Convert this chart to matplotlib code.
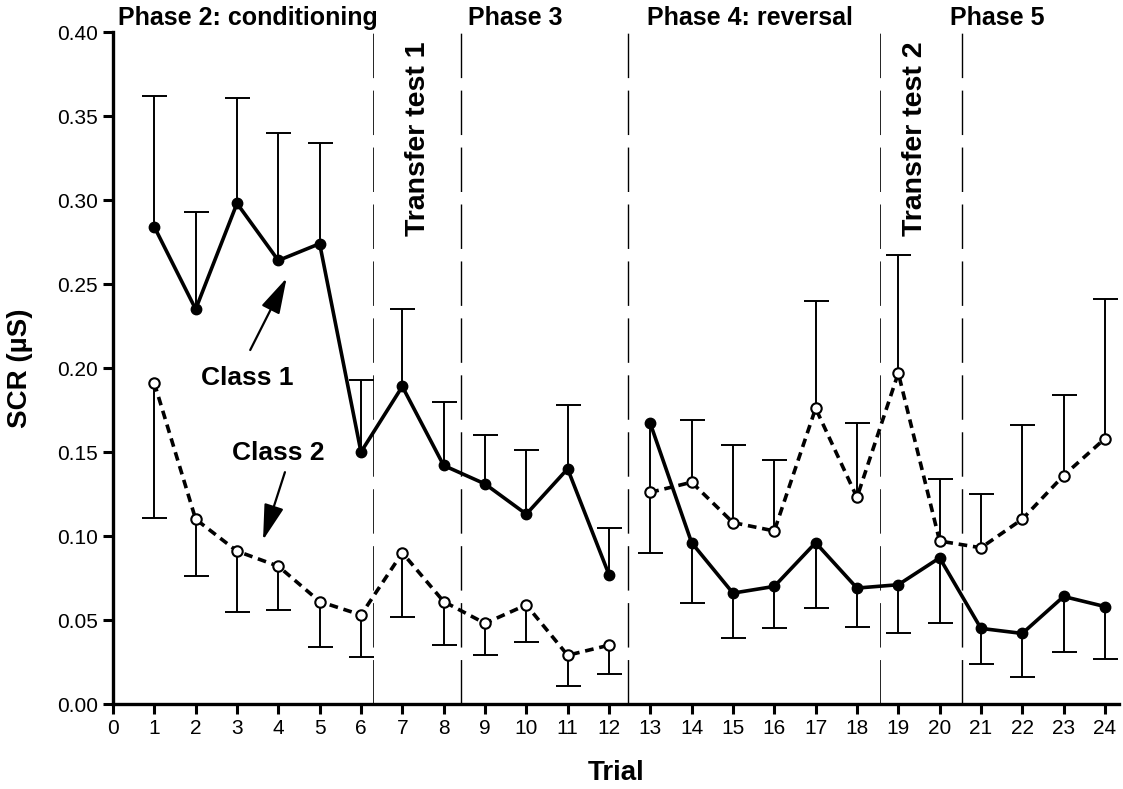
import numpy as np
import matplotlib
matplotlib.use("Agg")
import matplotlib.pyplot as plt

plt.rcParams['font.family'] = ['Liberation Sans', 'DejaVu Sans']

trials = np.arange(1, 25)

class1 = [0.284, 0.235, 0.298, 0.264, 0.274, 0.150, 0.189, 0.142, 0.131, 0.113, 0.140, 0.077,
          0.167, 0.096, 0.066, 0.070, 0.096, 0.069, 0.071, 0.087, 0.045, 0.042, 0.064, 0.058]
class1_up = [0.362, 0.293, 0.361, 0.340, 0.334, 0.193, 0.235, 0.180, 0.160, 0.151, 0.178, 0.105,
             None, None, None, None, None, None, None, None, None, None, None, None]
class1_low = [None] * 12 + [0.090, 0.060, 0.039, 0.045, 0.057, 0.046, 0.042, 0.048, 0.024, 0.016, 0.031, 0.027]

class2 = [0.191, 0.110, 0.091, 0.082, 0.061, 0.053, 0.090, 0.061, 0.048, 0.059, 0.029, 0.035,
          0.126, 0.132, 0.108, 0.103, 0.176, 0.123, 0.197, 0.097, 0.093, 0.110, 0.136, 0.158]
class2_low = [0.111, 0.076, 0.055, 0.056, 0.034, 0.028, 0.052, 0.035, 0.029, 0.037, 0.011, 0.018] + [None] * 12
class2_up = [None] * 12 + [None, 0.169, 0.154, 0.145, 0.240, 0.167, 0.267, 0.134, 0.125, 0.166, 0.184, 0.241]

phase_lines = [6.28, 8.43, 12.47, 18.55, 20.55]
phase_line_widths = [0.6, 1.0, 1.0, 0.6, 1.0]
phase_labels = ["Phase 2: conditioning", "Phase 3", "Phase 4: reversal", "Phase 5"]
phase_label_x = [3.27, 9.73, 15.41, 21.39]
transfer_labels = ["Transfer test 1", "Transfer test 2"]
transfer_x = [7.38, 19.40]

W, H = 1123, 789
fig = plt.figure(figsize=(W / 100, H / 100), dpi=100)
ax = fig.add_axes([113 / W, 1 - 704 / H, (1119 - 113) / W, (704 - 32) / H])
ax.set_xlim(0, 24.34)
ax.set_ylim(0, 0.40)


def to_arr(v):
    return np.array([np.nan if a is None else a for a in v], dtype=float)


c1 = np.array(class1)
c2 = np.array(class2)


def one_sided(x, y, ends, up):
    ends = to_arr(ends)
    m = ~np.isnan(ends)
    xs, ys, es = x[m], y[m], ends[m]
    if up:
        err = [np.zeros_like(ys), es - ys]
    else:
        err = [ys - es, np.zeros_like(ys)]
    _, caps, _ = ax.errorbar(xs, ys, yerr=err, fmt='none', ecolor='black',
                             elinewidth=1.4, capsize=9, capthick=1.4, zorder=2)
    # hide the zero-length caps sitting on the data points
    caps[0 if up else 1].set_visible(False)


one_sided(trials, c1, class1_up, True)
one_sided(trials, c1, class1_low, False)
one_sided(trials, c2, class2_low, False)
one_sided(trials, c2, class2_up, True)

# phase separators
for xv, lw in zip(phase_lines, phase_line_widths):
    ax.plot([xv, xv], [0, 0.40], color='black', lw=lw,
            linestyle=(0, (32 / lw, 9 / lw)), zorder=1)

# class lines: split at 12|13 (separate phases)
for seg in (slice(0, 12), slice(12, 24)):
    ax.plot(trials[seg], c1[seg], color='black', lw=2.6, marker='o', markersize=7.5,
            markerfacecolor='black', markeredgecolor='black', zorder=4)
    ax.plot(trials[seg], c2[seg], color='black', lw=2.6, linestyle=(0, (2.4, 1.6)),
            marker='o', markersize=7.5, markerfacecolor='white',
            markeredgecolor='black', markeredgewidth=1.5, zorder=3)

# axes styling
for s in ('top', 'right'):
    ax.spines[s].set_visible(False)
for s in ('left', 'bottom'):
    ax.spines[s].set_linewidth(2.4)
ax.spines['left'].set_bounds(0, 0.40)
ax.set_xticks(range(0, 25))
ax.set_yticks(np.arange(0, 0.401, 0.05))
ax.set_yticklabels([f"{v:.2f}" for v in np.arange(0, 0.401, 0.05)])
ax.tick_params(axis='both', direction='out', length=7, width=2.2, labelsize=15, pad=4)
ax.set_xlabel("Trial", fontsize=20, fontweight='bold', va='center')
ax.xaxis.set_label_coords(0.5, (704 - 773) / 672)
ax.set_ylabel("SCR (µS)", fontsize=20, fontweight='bold', va='center')
ax.yaxis.set_label_coords((20 - 113) / 1006, 0.5)

for lab, xv in zip(phase_labels, phase_label_x):
    ax.text(xv, 0.4085, lab, ha='center', va='center', fontsize=18,
            fontweight='bold', clip_on=False)
for lab, xv in zip(transfer_labels, transfer_x):
    ax.text(xv, 0.3365, lab, ha='center', va='center', rotation=90,
            fontsize=20.5, fontweight='bold')

ax.text(3.24, 0.194, "Class 1", ha='center', va='center', fontsize=19, fontweight='bold')
ax.text(4.0, 0.1495, "Class 2", ha='center', va='center', fontsize=19, fontweight='bold')
ax.annotate("", xy=(4.2, 0.2535), xytext=(3.32, 0.2107),
            arrowprops=dict(arrowstyle='-|>,head_length=1.0,head_width=0.28',
                            mutation_scale=22, lw=1.6, color='black',
                            shrinkA=0, shrinkB=0))
ax.annotate("", xy=(3.63, 0.0976), xytext=(4.16, 0.138),
            arrowprops=dict(arrowstyle='-|>,head_length=1.0,head_width=0.28',
                            mutation_scale=22, lw=1.6, color='black',
                            shrinkA=0, shrinkB=0))

fig.savefig("out.png", dpi=100)
